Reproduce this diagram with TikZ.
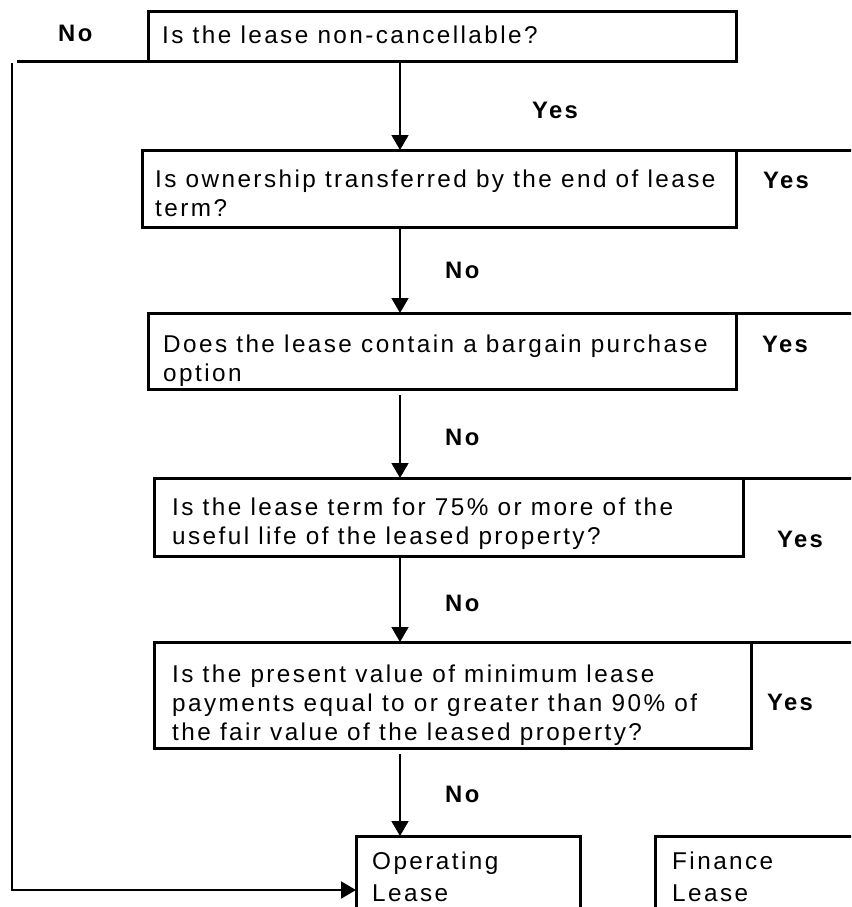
\documentclass[tikz,border=0pt]{standalone}
\usepackage{fontspec}
\setmainfont{Liberation Sans}[LetterSpace=10]
\usetikzlibrary{arrows.meta}
\begin{document}
\begin{tikzpicture}[x=1pt,y=-1pt,
  box/.style={draw, line width=3pt, inner sep=0pt, outer sep=0pt, anchor=north west},
  border/.style={line width=3pt},
  txt/.style={anchor=north west, inner sep=0pt, align=left, font=\fontsize{24.3}{29}\selectfont},
  lbl/.style={anchor=base west, inner sep=0pt, font=\fontsize{23.8}{29}\selectfont\bfseries},
  arr/.style={line width=1.6pt, -{Triangle[width=17pt,length=15pt]}},
  back/.style={line width=2pt, -{Triangle[width=17pt,length=15pt]}}]
\useasboundingbox (0,0) rectangle (851,907);
\clip (0,0) rectangle (851,907);
\coordinate (ax) at (400,0);
\coordinate (re) at (870,0);
% boxes
\node[box, minimum width=588pt, minimum height=50pt] (b1) at (148,12) {};
\node[box, minimum width=594pt, minimum height=77pt] (b2) at (142,150) {};
\node[box, minimum width=588pt, minimum height=76pt] (b3) at (148,313) {};
\node[box, minimum width=589pt, minimum height=78pt] (b4) at (154,478) {};
\node[box, minimum width=597pt, minimum height=106pt] (b5) at (154,642) {};
\node[box, minimum width=224pt, minimum height=100pt] (op) at (356,836) {};
\node[box, minimum width=250pt, minimum height=100pt] (fin) at (655,836) {};
% texts
\node[txt] (t1) at (162,25.5) {Is the lease non-cancellable?};
\node[txt] (t2) at (155,170) {Is ownership transferred by the end of lease\\term?};
\node[txt] (t3) at (163,334.5) {Does the lease contain a bargain purchase\\option};
\node[txt] (t4) at (172,497.5) {Is the lease term for 75\% or more of the\\useful life of the leased property?};
\node[txt] (t5) at (172,664.5) {Is the present value of minimum lease\\payments equal to or greater than 90\% of\\the fair value of the leased property?};
\node[txt, font=\fontsize{24.3}{32}\selectfont] (t6) at (372,852) {Operating\\Lease};
\node[txt, font=\fontsize{24.3}{32}\selectfont] (t7) at (672,852) {Finance\\Lease};
% labels
\node[lbl] (n1) at (58,42) {No};
\node[lbl] (y1) at (532,118) {Yes};
\node[lbl] (y2) at (763,188) {Yes};
\node[lbl] (n2) at (445,278) {No};
\node[lbl] (y3) at (762,352) {Yes};
\node[lbl] (n3) at (445,445) {No};
\node[lbl] (y4) at (777,547) {Yes};
\node[lbl] (n4) at (445,611) {No};
\node[lbl] (y5) at (767,710) {Yes};
\node[lbl] (n5) at (445,802) {No};
% extension lines
\coordinate (nostart) at (17,62);
\draw[border] (nostart) -- (b1.south west);
\draw[border] (b2.north east) -- (b2.north east -| re);
\draw[border] (b3.north east) -- (b3.north east -| re);
\draw[border] (b4.north east) -- (b4.north east -| re);
\draw[border] (b5.north east) -- (b5.north east -| re);
% arrows
\draw[arr] (b1.south -| ax) -- (b2.north -| ax);
\draw[arr] (b2.south -| ax) -- (b3.north -| ax);
\draw[arr, shorten <=6pt] (b3.south -| ax) -- (b4.north -| ax);
\draw[arr] (b4.south -| ax) -- (b5.north -| ax);
\draw[arr, shorten <=6pt] (b5.south -| ax) -- (op.north -| ax);
\coordinate (lt) at (12,63);
\coordinate (lb) at (0,890);
\draw[back] (lt) |- (op.west |- lb);
\end{tikzpicture}
\end{document}
